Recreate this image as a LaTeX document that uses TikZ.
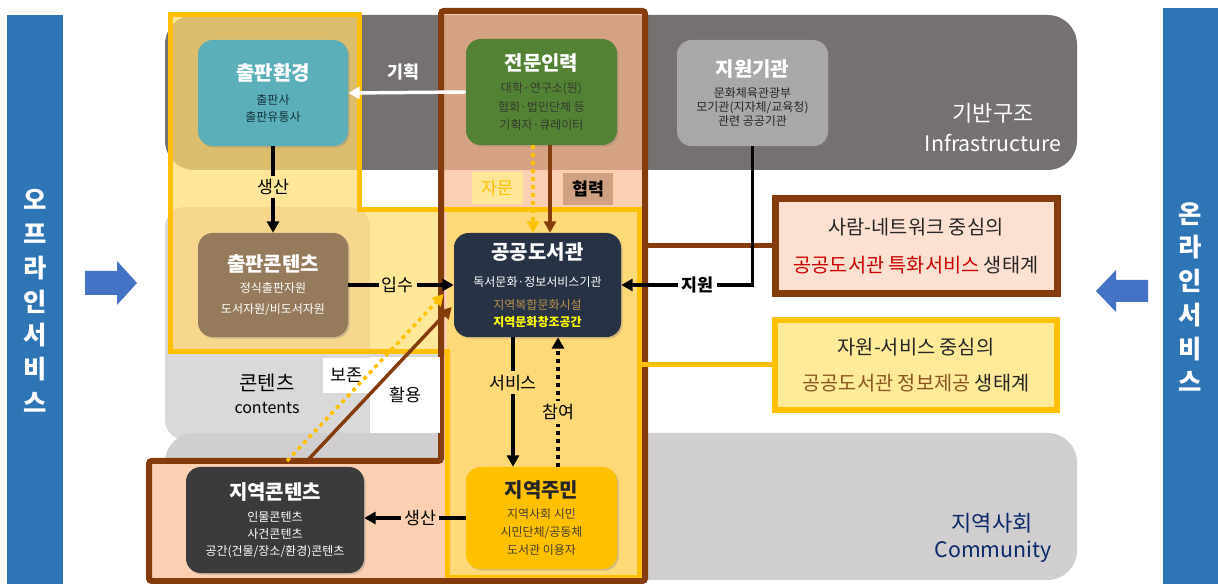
\documentclass[tikz,border=0pt]{standalone}
\usepackage{fontspec}
\setmainfont{Noto Sans CJK KR}
\usetikzlibrary{arrows.meta,shadows,calc}
\definecolor{barblue}{HTML}{2E75B6}
\definecolor{arrblue}{HTML}{4472C4}
\definecolor{infra}{HTML}{767171}
\definecolor{comm}{HTML}{D0CECE}
\definecolor{cont}{HTML}{D9D9D9}
\definecolor{ylight}{HTML}{FFE699}
\definecolor{ytan}{HTML}{DCBD6E}
\definecolor{ytint}{HTML}{F7D78D}
\definecolor{yframe}{HTML}{FFC000}
\definecolor{bframe}{HTML}{843C0C}
\definecolor{peach}{HTML}{FBCFB2}
\definecolor{btint}{HTML}{D5A283}
\definecolor{libfill}{HTML}{FFD878}
\definecolor{cteal}{HTML}{5AAFB9}
\definecolor{tealtxt}{HTML}{17323A}
\definecolor{cgreen}{HTML}{548235}
\definecolor{greentxt}{HTML}{333B2E}
\definecolor{cgray}{HTML}{A9A7A7}
\definecolor{graytxt}{HTML}{262626}
\definecolor{cbrown}{HTML}{967A5C}
\definecolor{cnavy}{HTML}{283245}
\definecolor{goldtxt}{HTML}{B8924A}
\definecolor{brightyel}{HTML}{FFFF00}
\definecolor{cdark}{HTML}{3B3B3B}
\definecolor{cgold}{HTML}{FFC000}
\definecolor{goldsub}{HTML}{4A3F2A}
\definecolor{bboxfill}{HTML}{FCE1D2}
\definecolor{yboxfill}{HTML}{FFEA9A}
\definecolor{redtxt}{HTML}{CC0000}
\definecolor{browntxt}{HTML}{8C5420}
\definecolor{navytxt}{HTML}{0B2A6B}
\definecolor{hyeop}{HTML}{D1A184}
\newcommand\ttl{\fontsize{15}{17}\selectfont\bfseries}
\newcommand\sbt{\fontsize{9}{12.75}\selectfont}
\newcommand\sbtb{\fontsize{9}{13.75}\selectfont}
\newcommand\sbtc{\fontsize{9}{10.75}\selectfont}
\newcommand\lbl{\fontsize{13}{15}\selectfont}
\newcommand\bandfont{\fontsize{16.5}{19}\selectfont}
\newcommand\bandlat{\fontsize{16}{19}\selectfont}
\newcommand\rfont{\fontsize{14.8}{18}\selectfont}
\newcommand\sidefont{\fontsize{19}{25.3}\selectfont\bfseries}
\tikzset{
  card/.style={rounded corners=11pt, align=center, inner sep=2pt,
    drop shadow={shadow xshift=1.2pt,shadow yshift=-1.2pt,opacity=.35}},
  lab/.style={font=\lbl, inner sep=2.5pt},
  arr/.style={line width=2.6pt, -{Triangle[length=8.5pt,width=9pt]}},
  dotline/.style={dash pattern=on 3pt off 3pt},
}
\begin{document}
\begin{tikzpicture}[x=0.75pt,y=-0.75pt]
\useasboundingbox (0,0) rectangle (1218,584);
\def\ypath{(170,15) -- (359,15) -- (359,210) -- (639,210) -- (639,577) -- (447,577) -- (447,352) -- (170,352) -- cycle}
\def\bpath{(441,11) -- (645,11) -- (645,581) -- (149,581) -- (149,461) -- (441,461) -- cycle}
% side bars and block arrows
\fill[barblue] (7,15) rectangle (63,584);
\fill[barblue] (1163,8) rectangle (1218,584);
\node[font=\sidefont, text=white, align=center] (offtxt) at (35,301) {오\\프\\라\\인\\서\\비\\스};
\node[font=\sidefont, text=white, align=center] (ontxt) at (1190,297) {온\\라\\인\\서\\비\\스};
\fill[arrblue] (85,271) -- (117,271) -- (117,261) -- (137,283) -- (117,305) -- (117,295) -- (85,295) -- cycle;
\fill[arrblue] (1148,280) -- (1116,280) -- (1116,270) -- (1096,291) -- (1116,312) -- (1116,302) -- (1148,302) -- cycle;
% bands
\fill[cont, rounded corners=15pt] (165,207) rectangle (440,440);
\fill[infra, rounded corners=22pt] (165,15) rectangle (1077,170);
\fill[comm, rounded corners=22pt] (165,433) rectangle (1077,580);
% yellow region
\fill[ylight] \ypath;
\begin{scope}
  \clip \ypath;
  \fill[ytan, rounded corners=22pt] (165,15) rectangle (1077,170);
  \fill[ytint, rounded corners=15pt] (165,207) rectangle (370,380);
\end{scope}
% brown region
\fill[peach] \bpath;
\begin{scope}
  \clip \bpath;
  \fill[btint, rounded corners=22pt] (165,15) rectangle (1077,170);
\end{scope}
\fill[libfill] (447,210) rectangle (639,577);
% frames
\draw[yframe, line width=3.75pt] \ypath;
\draw[bframe, line width=4.5pt, rounded corners=2pt] \bpath;
% label boxes
\node[fill=white, minimum width=52.5pt, minimum height=57pt, font=\lbl, inner sep=0pt] (hwal) at (405,395) {활용};
\node[fill=white, minimum width=35.25pt, minimum height=26.25pt, font=\lbl, inner sep=0pt] (bojon) at (346.5,375.5) {보존};
\node[fill=ylight, minimum width=38.25pt, minimum height=24pt, font=\lbl, text=yframe, inner sep=0pt] (jamun) at (497,188) {자문};
\node[fill=hyeop, minimum width=37.5pt, minimum height=24pt, font=\lbl\bfseries, inner sep=0pt] (hyeopl) at (588,189) {협력};
% band texts
\node[font=\bandfont, text=white] (gb1) at (993,113) {기반구조};
\node[font=\bandlat, text=white] (gb2) at (993,143) {Infrastructure};
\node[font=\bandfont, text=navytxt] (cm1) at (992,523) {지역사회};
\node[font=\bandlat, text=navytxt] (cm2) at (993,552) {Community};
\node[font=\fontsize{15}{17}\selectfont] (ct1) at (267,383) {콘텐츠};
\node[font=\fontsize{12}{14}\selectfont] (ct2) at (267,408) {contents};
% cards
\node[card, fill=cteal, minimum width=112.5pt, minimum height=79.5pt, text=tealtxt, font=\sbt] (pe) at (273,93)
  {{\ttl\color{white}출판환경}\\[5pt]출판사\\출판유통사};
\node[card, fill=cgreen, minimum width=113.25pt, minimum height=79.5pt, text=greentxt, font=\sbtb] (jm) at (541.5,92)
  {{\ttl\color{white}전문인력}\\[3pt]대학·연구소(원)\\협회·법인단체 등\\기획자·큐레이터};
\node[card, fill=cgray, minimum width=113.25pt, minimum height=79.5pt, text=graytxt, font=\sbtc] (jw) at (752.5,93)
  {{\ttl\color{white}지원기관}\\[5pt]문화체육관광부\\모기관(지자체/교육청)\\관련 공공기관};
\node[card, fill=cbrown, minimum width=112.5pt, minimum height=78pt, text=white, font=\sbt] (pc) at (273,285)
  {{\ttl 출판콘텐츠}\\[2.5pt]정식출판자원\\[3pt]도서자원/비도서자원};
\node[card, fill=cnavy, minimum width=125.25pt, minimum height=78pt, text=white, font=\sbt] (lib) at (537.5,285)
  {{\ttl 공공도서관}\\[7pt]독서문화·정보서비스기관\\[4.5pt]{\color{goldtxt}지역복합문화시설}\\{\color{brightyel}\bfseries 지역문화창조공간}};
\node[card, fill=cdark, minimum width=133.5pt, minimum height=79.5pt, text=white, font=\sbt] (jc) at (275,520)
  {{\ttl 지역콘텐츠}\\[4pt]인물콘텐츠\\사건콘텐츠\\공간(건물/장소/환경)콘텐츠};
\node[card, fill=cgold, minimum width=113.25pt, minimum height=76.5pt, text=goldsub, font=\sbt] (jj) at (541.5,518)
  {{\ttl\color{graytxt}지역주민}\\[3.5pt]지역사회 시민\\[0.75pt]시민단체/공동체\\[0.75pt]도서관 이용자};
% right boxes and their connectors
\coordinate (bR) at (645,246);
\coordinate (yR) at (639,365);
\node[draw=bframe, line width=5.25pt, fill=bboxfill, minimum width=211.5pt, minimum height=71.25pt, align=center, font=\rfont, text=graytxt] (bbox) at (916,246)
  {사람-네트워크 중심의\\[10pt]{\color{redtxt}공공도서관 특화서비스} 생태계};
\node[draw=yframe, line width=4.5pt, fill=yboxfill, minimum width=211.5pt, minimum height=67.5pt, align=center, font=\rfont, text=graytxt] (ybox) at (916,365)
  {자원-서비스 중심의\\[9.25pt]{\color{browntxt}공공도서관 정보제공} 생태계};
\draw[bframe, line width=3.75pt] (bR) -- (bbox.west);
\draw[yframe, line width=3.75pt] (yR) -- (ybox.west);
% arrows
\draw[arr, white] (jm.west) -- (pe.east);
\node[font=\lbl\bfseries, text=white] (gihoek) at (403,72) {기획};
\draw[arr] (pe.south) -- node[lab, fill=ylight, pos=0.47] (l1) {생산} (pc.north);
\draw[arr] (pc.east) -- node[lab, fill=ylight, pos=0.47] (l2) {입수} (lib.west);
\draw[arr, bframe] ($(jm.south)+(8.5,0)$) -- ($(lib.north)+(12.5,0)$);
\draw[arr, yframe, dotline] ($(jm.south)+(-8.5,0)$) -- ($(lib.north)+(-4.5,0)$);
\draw[arr] (jw.south) |- node[lab, fill=white, pos=0.71, font=\lbl\bfseries] (l3) {지원} (lib.east);
\draw[arr] ($(lib.south)+(-24.5,0)$) -- node[lab, fill=libfill, pos=0.35] (l4) {서비스} ($(jj.north)+(-28.5,0)$);
\draw[arr, dotline] ($(jj.north)+(16.5,0)$) -- node[lab, fill=libfill, pos=0.42] (l5) {참여} ($(lib.south)+(20.5,0)$);
\draw[arr] (jj.west) -- node[lab, fill=peach, pos=0.45] (l6) {생산} (jj.west -| jc.east);
\coordinate (hs) at (307,461);
\coordinate (bs) at (287,461);
\draw[arr, bframe] (hs) -- ($(lib.west)+(-2,22)$);
\draw[arr, yframe, dotline] (bs) -- ($(lib.west)+(-10,9)$);
\end{tikzpicture}
\end{document}
